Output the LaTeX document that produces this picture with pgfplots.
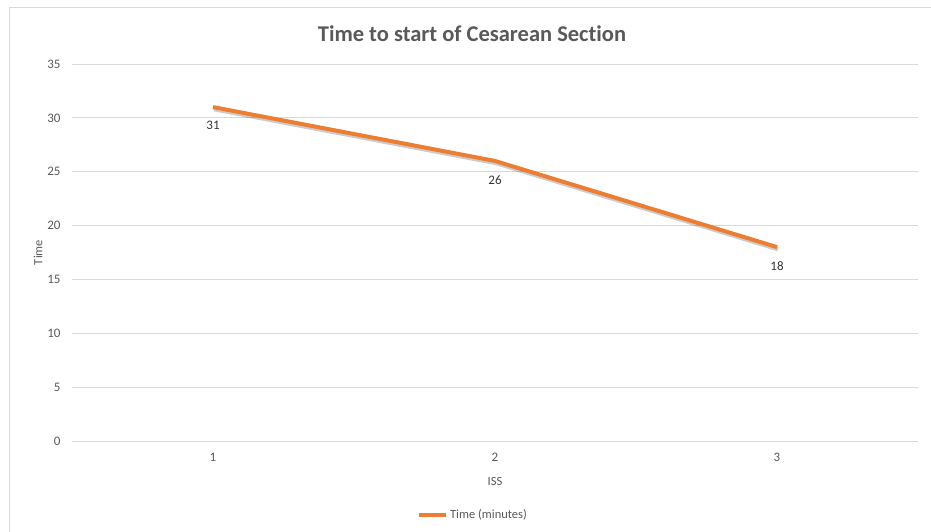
\documentclass[border=0pt]{standalone}
\usepackage{pgfplots}
\pgfplotsset{compat=1.18}
\usepackage{fontspec}
\setmainfont{Carlito}[Ligatures={NoCommon}]
\definecolor{lineor}{HTML}{ED7D31}
\definecolor{gridc}{HTML}{D9D9D9}
\definecolor{txt}{HTML}{595959}
\begin{document}
\begin{tikzpicture}
\path[use as bounding box] (-72pt,-90pt) rectangle (859pt,441pt);
\draw[gridc, line width=1pt] (-62pt,-95pt) -- (-62pt,433pt) -- (870pt,433pt);
\begin{axis}[
  scale only axis,
  width=846pt, height=377pt,
  xmin=0.5, xmax=3.5, ymin=0, ymax=35,
  xtick={1,2,3}, ytick={0,5,...,35},
  axis line style={draw=none},
  major tick length=0pt,
  ymajorgrids, grid style={gridc, line width=0.8pt},
  tick label style={font=\fontsize{13}{15}\selectfont, text=txt},
  /pgf/number format/assume math mode=true,
  yticklabel style={xshift=-8pt},
  xticklabel style={yshift=-9pt},
  xlabel={ISS}, ylabel={Time},
  label style={font=\fontsize{12.5}{14}\selectfont, text=txt},
  xlabel style={yshift=-8pt},
  ylabel style={yshift=-2pt},
  legend style={at={(401pt,-74pt)}, anchor=center, draw=none, fill=none,
    font=\fontsize{12.5}{14}\selectfont, text=txt, inner sep=0pt,
    /tikz/every even column/.append style={column sep=0pt}},
  legend cell align=left,
  legend image code/.code={\draw[#1, line width=4pt] (0pt,0pt) -- (27pt,0pt);},
  clip=false,
]
\addplot[black, opacity=0.2, line width=4.5pt, xshift=1pt, yshift=-2pt, forget plot] coordinates {(1,31) (2,26) (3,18)};
\addplot[lineor, line width=4pt,
  nodes near coords, point meta=explicit symbolic,
  every node near coord/.append style={font=\fontsize{13}{15}\selectfont, text=black!80, anchor=north, yshift=-9pt}]
  coordinates {(1,31) [31] (2,26) [26] (3,18) [18]};
\addlegendentry{Time (minutes)}
\end{axis}
\node[font=\fontsize{22.5}{26}\selectfont\bfseries, text=txt] at (400pt,407pt) {Time to start of Cesarean Section};
\end{tikzpicture}
\end{document}
